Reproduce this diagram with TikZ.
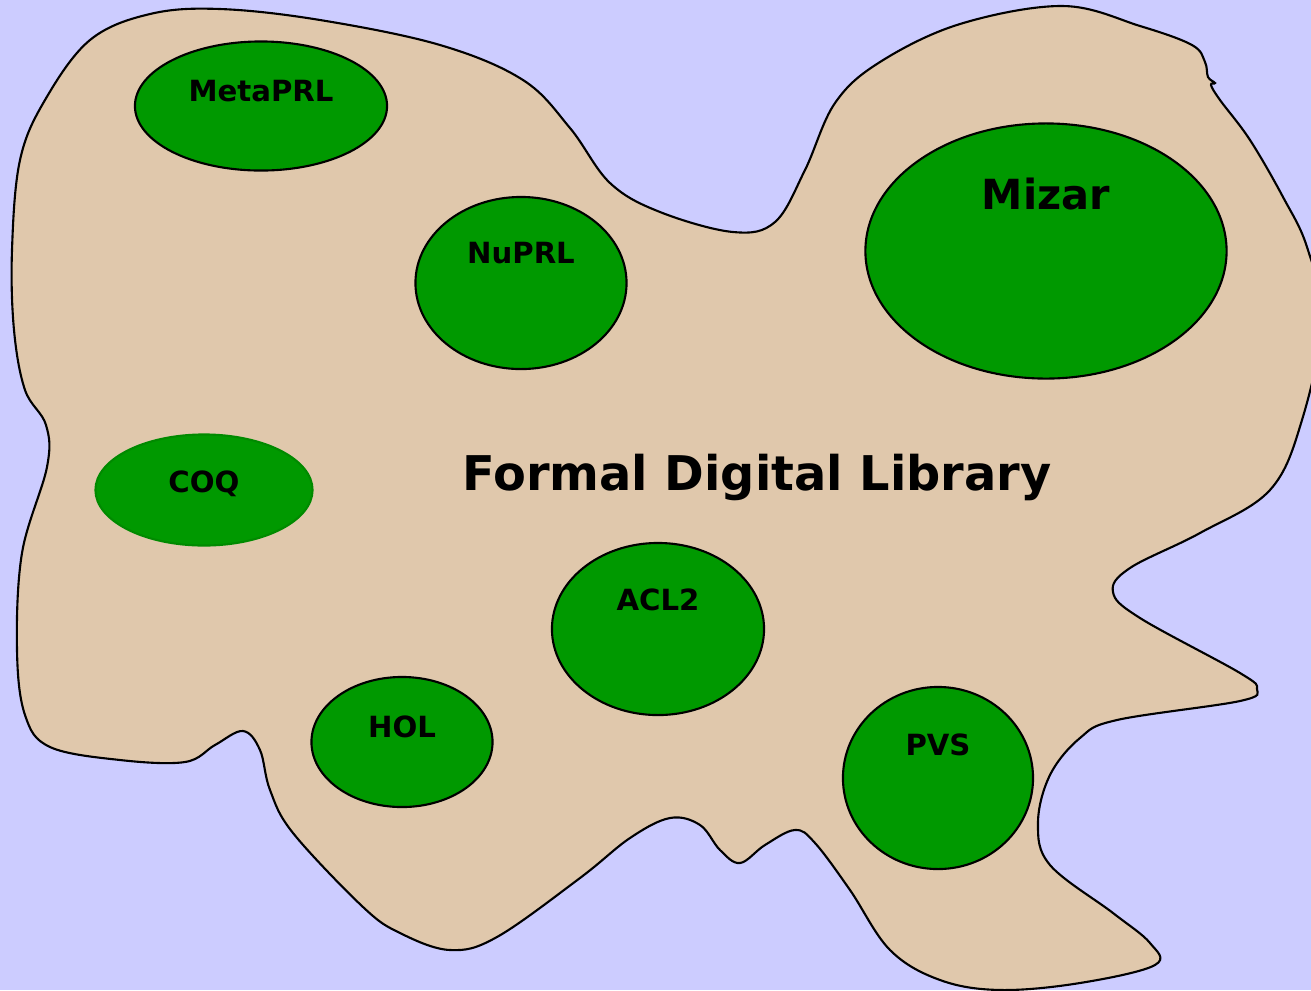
\documentclass[tikz,border=0pt]{standalone}
\usepackage{fontspec}
\setsansfont{DejaVu Sans}
\usepackage{tikz}
\usetikzlibrary{shapes.geometric,calc}
\definecolor{skyback}{HTML}{CCCCFF}
\definecolor{libtan}{HTML}{E0C8AC}
\definecolor{provergreen}{HTML}{009900}
\definecolor{coqedge}{HTML}{008A00}
\tikzset{
    prover/.style={ellipse,draw=black,line width=0.6pt,fill=provergreen,inner sep=0pt},
    provername/.style={font=\sffamily\bfseries\fontsize{8.3}{10}\selectfont,
        inner sep=0pt,text height=0.73em,text depth=0pt},
    bigname/.style={provername,font=\sffamily\bfseries\fontsize{11.8}{14}\selectfont},
    libname/.style={provername,font=\sffamily\bfseries\fontsize{13.6}{16}\selectfont}
}
\begin{document}
\begin{tikzpicture}[x=0.01cm,y=-0.01cm]
    \fill[skyback] (0,0) rectangle (1311,990);
    \useasboundingbox (0,0) rectangle (1311,990);
    \begin{scope}
    \clip (0,0) rectangle (1311,990);
    \draw[line width=0.6pt,fill=libtan] plot[smooth cycle,tension=0.6] coordinates {
        (12,250) (20,160) (45,100) (90,40) (150,14) (220,9) (320,20) (440,45)
        (523,80) (570,128) (610,183) (660,212) (733,232) (775,222) (805,170)
        (835,103) (880,62) (960,24) (1063,6) (1140,26) (1192,45) (1205,62)
        (1208,77) (1215,83) (1211,85) (1220,100) (1250,140) (1283,197)
        (1307,247) (1322,320) (1302,420) (1270,490) (1200,533) (1130,568)
        (1113,592) (1140,618) (1240,673) (1257,689) (1240,701) (1117,720)
        (1080,738) (1050,775) (1038,823) (1050,865) (1113,913) (1150,943)
        (1155,965) (1080,983) (1000,990) (940,980) (890,950) (850,890)
        (815,843) (795,830) (765,845) (740,863) (720,850) (700,825) (670,818)
        (630,838) (580,878) (497,937) (450,950) (400,933) (363,907) (293,833)
        (270,790) (260,750) (243,731) (215,745) (185,762) (120,760) (50,747)
        (25,715) (17,650) (22,553) (47,467) (46,425) (25,390) (14,330)};
    \end{scope}

    \node[prover,minimum width=2.52cm,minimum height=1.29cm] (metaprl) at (261,106) {};
    \node[prover,minimum width=2.11cm,minimum height=1.72cm] (nuprl) at (521,283) {};
    \node[prover,minimum width=3.61cm,minimum height=2.55cm] (mizar) at (1046,251) {};
    \node[prover,draw=coqedge,minimum width=2.17cm,minimum height=1.11cm] (coq) at (204,490) {};
    \node[prover,minimum width=2.12cm,minimum height=1.72cm] (acl2) at (658,629) {};
    \node[prover,minimum width=1.81cm,minimum height=1.30cm] (hol) at (402,742) {};
    \node[prover,minimum width=1.90cm,minimum height=1.82cm] (pvs) at (938,778) {};

    \node[provername] (metaprl-name) at ($(metaprl)+(0,-17)$) {MetaPRL};
    \node[provername] (nuprl-name) at ($(nuprl)+(0,-32)$) {NuPRL};
    \node[bigname] (mizar-name) at ($(mizar)+(0,-54)$) {Mizar};
    \node[provername] (coq-name) at ($(coq)+(0,-10)$) {COQ};
    \node[provername] (acl2-name) at ($(acl2)+(0,-31)$) {ACL2};
    \node[provername] (hol-name) at ($(hol)+(0,-17)$) {HOL};
    \node[provername] (pvs-name) at ($(pvs)+(0,-35)$) {PVS};
    \node[libname] (fdl) at (757,478) {Formal Digital Library};
\end{tikzpicture}
\end{document}
